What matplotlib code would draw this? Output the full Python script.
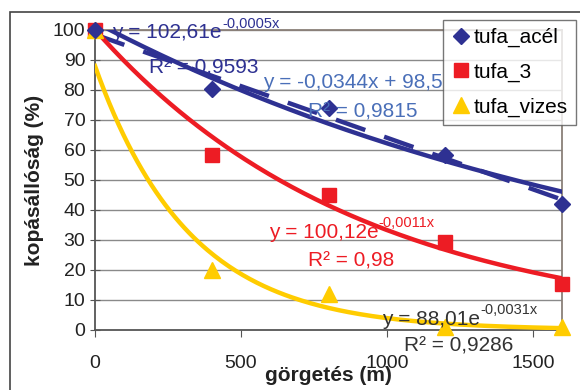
import matplotlib
matplotlib.use("Agg")
import matplotlib.pyplot as plt
import numpy as np
from matplotlib.patches import Rectangle

plt.rcParams["font.family"] = ["Liberation Sans", "DejaVu Sans"]

# ── Data ──────────────────────────────────────────────────────────────────────
distance = [0, 400, 800, 1200, 1600]
tufa_acel = [100, 80.5, 74, 58.5, 42]
tufa_3 = [100, 58.5, 45, 29.5, 15.5]
tufa_vizes = [100, 20, 12, 1, 1]

x_ticks = [0, 500, 1000, 1500]
y_ticks = [0, 10, 20, 30, 40, 50, 60, 70, 80, 90, 100]

BLUE = "#2E3192"
BLUE_TXT = "#4A6FB8"
RED = "#ED1C24"
YELLOW = "#FFCC00"
GRID = "#8a8a8a"
FS = 15

fig = plt.figure(figsize=(5.8, 3.9), dpi=100)
fig.patch.set_facecolor("white")

# outer frame of the scanned figure
fig.patches.append(Rectangle((10 / 580, -0.05), 1.2, 0.05 + 378 / 390,
                             transform=fig.transFigure, fill=False,
                             edgecolor="#444444", lw=1.2))

ax = fig.add_axes([95 / 580, 60 / 390, 467 / 580, 300 / 390])
ax.set_xlim(0, 1600)
ax.set_ylim(0, 100)

for y in y_ticks[1:]:
    ax.axhline(y, color=GRID, lw=1.0, zorder=1)

# ── Trendlines ───────────────────────────────────────────────────────────────
xs = np.linspace(0, 1600, 200)
ax.plot(xs, 102.61 * np.exp(-0.0005 * xs), color=BLUE, lw=3.2, zorder=3)
ax.plot(xs, -0.0344 * xs + 98.5, color=BLUE, lw=3.2, dashes=(7, 4.5), zorder=3)
ax.plot(xs, 100.12 * np.exp(-0.0011 * xs), color=RED, lw=3.2, zorder=3)
ax.plot(xs, 88.01 * np.exp(-0.0031 * xs), color=YELLOW, lw=3.2, zorder=3)

# ── Points ───────────────────────────────────────────────────────────────────
ax.plot(distance, tufa_acel, ls="none", marker="D", ms=8.5, color=BLUE,
        label="tufa_acél", zorder=5, clip_on=False)
ax.plot(distance, tufa_3, ls="none", marker="s", ms=10, color=RED,
        label="tufa_3", zorder=4, clip_on=False)
ax.plot(distance, tufa_vizes, ls="none", marker="^", ms=11, color=YELLOW,
        label="tufa_vizes", zorder=4, clip_on=False)


# ── Equation labels ──────────────────────────────────────────────────────────
def equation(x, y, base, sup, color):
    t = ax.text(x, y, base, color=color, fontsize=FS, va="center", zorder=6,
                clip_on=False)
    ax.annotate(sup, xy=(1, 0.62), xycoords=t, color=color, fontsize=10.5,
                va="bottom", ha="left", zorder=6)


equation(60, 99, "y = 102,61e", "-0,0005x", BLUE)
ax.text(185, 87.5, "R² = 0,9593", color=BLUE, fontsize=FS, va="center",
        zorder=6)
ax.text(575, 82.5, "y = -0,0344x + 98,5", color=BLUE_TXT, fontsize=FS,
        va="center", zorder=6)
ax.text(730, 72.5, "R² = 0,9815", color=BLUE_TXT, fontsize=FS,
        va="center", zorder=6)
equation(595, 32.5, "y = 100,12e", "-0,0011x", RED)
ax.text(730, 23, "R² = 0,98", color=RED, fontsize=FS, va="center", zorder=6)
equation(985, 3.5, "y = 88,01e", "-0,0031x", "#333333")
ax.text(1060, -5.5, "R² = 0,9286", color="#333333", fontsize=FS,
        va="center", zorder=6, clip_on=False)

# ── Axes styling ─────────────────────────────────────────────────────────────
ax.set_xticks(x_ticks)
ax.set_yticks(y_ticks)
ax.tick_params(axis="both", direction="inout", length=7, color="#555555",
               labelsize=14, labelcolor="#222222")
ax.tick_params(axis="x", direction="out", length=5, pad=13)
for side in ["left", "bottom"]:
    ax.spines[side].set_color("#555555")
    ax.spines[side].set_linewidth(1.3)
for side in ["top", "right"]:
    ax.spines[side].set_color("#8a8078")
    ax.spines[side].set_linewidth(1.3)

ax.set_xlabel("görgetés (m)", fontsize=15, fontweight="bold", color="#222222",
              labelpad=-4)
ax.set_ylabel("kopásállóság (%)", fontsize=15, fontweight="bold",
              color="#222222", labelpad=6)

leg = ax.legend(loc="upper left", bbox_to_anchor=(348 / 467, 1.035),
                fontsize=15, frameon=True, fancybox=False, handlelength=0.9,
                handletextpad=0.15, borderpad=0.4, labelspacing=0.75,
                borderaxespad=0)
leg.get_frame().set_edgecolor("#555555")
leg.get_frame().set_linewidth(1.0)
leg.set_zorder(10)

fig.savefig("out.png", dpi=100, facecolor="white")
